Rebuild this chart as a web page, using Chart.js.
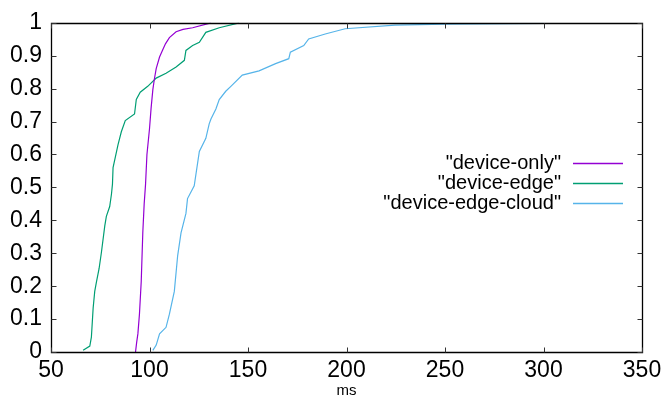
<!DOCTYPE html>
<html>
<head>
<meta charset="utf-8">
<script src="https://cdn.jsdelivr.net/npm/chart.js@4.4.1/dist/chart.umd.min.js"></script>
<style>
html,body{margin:0;padding:0;background:#fff;}
#wrap{width:667px;height:403px;position:relative;}
</style>
</head>
<body>
<div id="wrap"><canvas id="c" width="667" height="403"></canvas></div>
<script>
// ---- data (latency in ms, cumulative fraction) ----
const seriesNames = ['"device-only"', '"device-edge"', '"device-edge-cloud"'];
const seriesColors = ['#9400D3', '#009E73', '#56B4E9'];

const deviceOnlyMs  = [92.9, 93.5, 94.1, 94.9, 95.8, 96.6, 97.3, 98.0, 98.7, 100.0, 100.8, 101.7, 102.5, 103.4, 105.1, 106.5, 108.1, 110.1, 113.5, 117.0, 121.9, 131.2];
const deviceOnlyCdf = [0.0, 0.03, 0.055, 0.115, 0.214, 0.362, 0.45, 0.51, 0.6, 0.678, 0.74, 0.797, 0.83, 0.861, 0.896, 0.915, 0.936, 0.955, 0.973, 0.98, 0.985, 1.0];

const deviceEdgeMs  = [66.3, 69.7, 70.5, 71.4, 72.2, 73.1, 74.4, 75.6, 77.3, 78.1, 79.8, 80.7, 81.2, 81.5, 84.0, 85.7, 87.7, 92.4, 93.3, 95.3, 99.1, 103.4, 108.4, 113.5, 117.7, 118.5, 121.9, 125.3, 128.6, 135.4, 145.5];
const deviceEdgeCdf = [0.005, 0.018, 0.045, 0.134, 0.184, 0.214, 0.253, 0.303, 0.383, 0.412, 0.442, 0.48, 0.51, 0.56, 0.629, 0.669, 0.703, 0.723, 0.767, 0.789, 0.807, 0.832, 0.847, 0.866, 0.886, 0.916, 0.931, 0.941, 0.971, 0.985, 1.0];

const deviceEdgeCloudMs  = [101.7, 103.4, 105.1, 108.4, 110.1, 112.6, 114.3, 116.0, 118.5, 119.3, 122.7, 125.3, 128.6, 130.3, 131.2, 133.7, 135.4, 138.7, 141.3, 147.1, 155.6, 164.0, 170.7, 171.5, 178.3, 180.8, 189.2, 199.3, 224.6, 249.8, 300.0];
const deviceEdgeCloudCdf = [0.005, 0.021, 0.055, 0.075, 0.115, 0.184, 0.293, 0.362, 0.421, 0.466, 0.505, 0.609, 0.649, 0.693, 0.708, 0.738, 0.767, 0.792, 0.807, 0.841, 0.854, 0.876, 0.891, 0.911, 0.931, 0.951, 0.966, 0.982, 0.993, 0.996, 0.998];

const xTicks = [50, 100, 150, 200, 250, 300, 350];
const yTicks = [0, 0.1, 0.2, 0.3, 0.4, 0.5, 0.6, 0.7, 0.8, 0.9, 1];
const xTitle = 'ms';

const seriesX = [deviceOnlyMs, deviceEdgeMs, deviceEdgeCloudMs];
const seriesY = [deviceOnlyCdf, deviceEdgeCdf, deviceEdgeCloudCdf];

const FONT = '"Liberation Sans", Arial, Helvetica, sans-serif';

const datasets = seriesNames.map((name, i) => ({
  label: name,
  data: seriesX[i].map((x, k) => ({x: x, y: seriesY[i][k]})),
  borderColor: seriesColors[i],
  backgroundColor: seriesColors[i],
  borderWidth: 1.2,
  pointRadius: 0,
  showLine: true,
  tension: 0,
  fill: false
}));

// gnuplot-like frame with inward mirrored ticks + right-side key
const framePlugin = {
  id: 'frame',
  afterDatasetsDraw(chart) {
    const ctx = chart.ctx;
    const a = chart.chartArea;
    const xs = chart.scales.x, ys = chart.scales.y;
    const L = Math.round(a.left) + 0.5, R = Math.round(a.right) + 0.5;
    const T = Math.round(a.top) + 0.5, B = Math.round(a.bottom) + 0.5;
    ctx.save();
    ctx.strokeStyle = '#000';
    ctx.lineWidth = 1.3;
    ctx.beginPath();
    ctx.rect(L, T, R - L, B - T);
    ctx.stroke();
    ctx.lineWidth = 1;
    ctx.strokeStyle = '#333';
    const tl = 5;
    ctx.beginPath();
    xTicks.forEach(v => {
      const p = Math.round(xs.getPixelForValue(v)) + 0.5;
      ctx.moveTo(p, B); ctx.lineTo(p, B - tl);
      ctx.moveTo(p, T); ctx.lineTo(p, T + tl);
    });
    yTicks.forEach(v => {
      const p = Math.round(ys.getPixelForValue(v)) + 0.5;
      ctx.moveTo(L, p); ctx.lineTo(L + tl, p);
      ctx.moveTo(R, p); ctx.lineTo(R - tl, p);
    });
    ctx.stroke();

    // key
    ctx.font = '20px ' + FONT;
    ctx.textAlign = 'right';
    ctx.textBaseline = 'middle';
    ctx.fillStyle = '#000';
    const keyTextRight = 561, keyLineL = 573, keyLineR = 623, keyTop = 163, keyStep = 20;
    chart.data.datasets.forEach((ds, i) => {
      const y = keyTop + i * keyStep;
      ctx.fillText(ds.label, keyTextRight, y);
      ctx.strokeStyle = ds.borderColor;
      ctx.lineWidth = 1.5;
      ctx.beginPath();
      ctx.moveTo(keyLineL, y + 0.5);
      ctx.lineTo(keyLineR, y + 0.5);
      ctx.stroke();
    });
    ctx.restore();
  }
};

new Chart(document.getElementById('c'), {
  type: 'scatter',
  data: { datasets: datasets },
  options: {
    responsive: false,
    animation: false,
    events: [],
    layout: { padding: { left: 0, right: 25, top: 15, bottom: 0 } },
    plugins: { legend: { display: false }, tooltip: { enabled: false }, title: { display: false } },
    scales: {
      x: {
        type: 'linear', min: 50, max: 350,
        afterBuildTicks: s => { s.ticks = xTicks.map(v => ({value: v})); },
        afterFit: s => { s.height = 51; },
        grid: { display: false, drawTicks: false },
        border: { display: false },
        ticks: { color: '#000', padding: 5, maxRotation: 0, autoSkip: false, font: { family: FONT, size: 23 },
                 callback: v => String(v) },
        title: { display: true, text: xTitle, color: '#000', font: { family: FONT, size: 15 }, padding: { top: 0, bottom: 3 } }
      },
      y: {
        type: 'linear', min: 0, max: 1,
        afterBuildTicks: s => { s.ticks = yTicks.map(v => ({value: v})); },
        afterFit: s => { s.width = 51; },
        grid: { display: false, drawTicks: false },
        border: { display: false },
        ticks: { color: '#000', padding: 9, autoSkip: false, font: { family: FONT, size: 23 },
                 callback: v => String(Number(v.toFixed(1))) }
      }
    }
  },
  plugins: [framePlugin]
});
</script>
</body>
</html>
